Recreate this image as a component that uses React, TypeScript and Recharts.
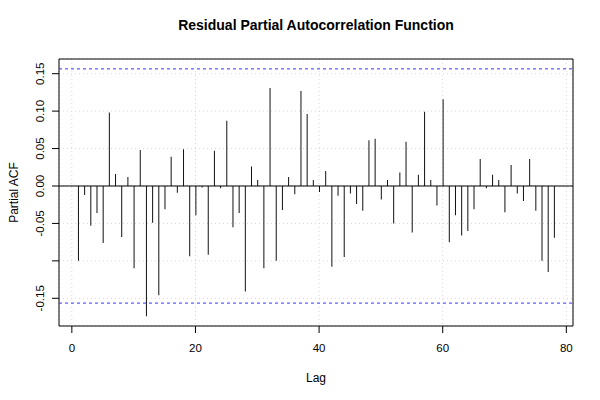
import React from 'react';
import {
  ComposedChart,
  Bar,
  XAxis,
  YAxis,
  CartesianGrid,
  ReferenceLine,
  ReferenceArea,
} from 'recharts';

// lag numbers and the residual partial autocorrelations
const lags = [
  1, 2, 3, 4, 5, 6, 7, 8, 9, 10, 11, 12, 13, 14, 15, 16, 17, 18, 19, 20,
  21, 22, 23, 24, 25, 26, 27, 28, 29, 30, 31, 32, 33, 34, 35, 36, 37, 38, 39, 40,
  41, 42, 43, 44, 45, 46, 47, 48, 49, 50, 51, 52, 53, 54, 55, 56, 57, 58, 59, 60,
  61, 62, 63, 64, 65, 66, 67, 68, 69, 70, 71, 72, 73, 74, 75, 76, 77, 78,
];

const pacf = [
  -0.100, -0.012, -0.053, -0.036, -0.076, 0.098, 0.016, -0.068, 0.012, -0.110,
  0.048, -0.174, -0.049, -0.146, -0.031, 0.039, -0.009, 0.049, -0.094, -0.039,
  -0.002, -0.092, 0.047, -0.003, 0.087, -0.055, -0.036, -0.141, 0.026, 0.008,
  -0.110, 0.131, -0.100, -0.032, 0.012, -0.011, 0.127, 0.096, 0.008, -0.008,
  0.020, -0.108, -0.013, -0.095, -0.010, -0.024, -0.033, 0.061, 0.063, -0.018,
  0.008, -0.050, 0.018, 0.059, -0.062, 0.015, 0.099, 0.008, -0.026, 0.116,
  -0.075, -0.039, -0.066, -0.060, -0.031, 0.036, -0.003, 0.015, 0.008, -0.035,
  0.028, -0.010, -0.020, 0.036, -0.033, -0.100, -0.115, -0.069,
];

const xTicks = [0, 20, 40, 60, 80];
const yTicks = [-0.15, -0.1, -0.05, 0, 0.05, 0.1, 0.15];
const hiddenYLabels = [-0.1]; // R drops this one (overlap)
const ci = 0.1564;

const xDomain: [number, number] = [-2.08, 81.08];
const yDomain: [number, number] = [-0.187, 0.1696];

const data = lags.map((lag, i) => ({ lag, value: pacf[i] }));

const FONT = '"Liberation Sans", Arial, Helvetica, sans-serif';

const YTick = (props: any) => {
  const { x, y, payload } = props;
  if (hiddenYLabels.includes(payload.value)) return <g />;
  return (
    <text
      x={x}
      y={y}
      transform={`rotate(-90, ${x}, ${y})`}
      textAnchor="middle"
      dominantBaseline="central"
      fontSize={11.5}
      fontFamily={FONT}
      fill="#000"
    >
      {payload.value.toFixed(2)}
    </text>
  );
};

const XTick = (props: any) => {
  const { x, y, payload } = props;
  return (
    <text x={x} y={y} textAnchor="middle" dy="0.71em" fontSize={11.5} fontFamily={FONT} fill="#000">
      {payload.value}
    </text>
  );
};

const App: React.FC = () => {
  return (
    <div style={{ position: 'absolute', left: 0, top: 0, width: 600, height: 400, background: '#fff' }}>
      <div
        style={{
          position: 'absolute',
          left: 59,
          width: 514,
          top: 17,
          textAlign: 'center',
          fontFamily: FONT,
          fontWeight: 'bold',
          fontSize: 14,
          color: '#000',
        }}
      >
        Residual Partial Autocorrelation Function
      </div>
      <ComposedChart
        width={600}
        height={400}
        data={data}
        margin={{ top: 59, right: 27, bottom: 34, left: 14 }}
      >
        <CartesianGrid stroke="#d8d8d8" strokeDasharray="1 3" />
        <XAxis
          dataKey="lag"
          type="number"
          domain={xDomain}
          ticks={xTicks}
          allowDataOverflow
          height={40}
          axisLine={false}
          tickLine={{ stroke: '#000' }}
          tickSize={7}
          tickMargin={11}
          tick={<XTick />}
          label={{
            content: (p: any) => (
              <text
                x={p.viewBox.x + p.viewBox.width / 2}
                y={p.viewBox.y + 52}
                textAnchor="middle"
                dominantBaseline="central"
                fontSize={12}
                fontFamily={FONT}
                fill="#000"
              >
                Lag
              </text>
            ),
          }}
        />
        <YAxis
          type="number"
          domain={yDomain}
          ticks={yTicks}
          allowDataOverflow
          width={45}
          axisLine={false}
          tickLine={{ stroke: '#000' }}
          tickSize={7}
          tickMargin={12}
          tick={<YTick />}
          label={{
            content: (p: any) => {
              const cx = p.viewBox.x + p.viewBox.width - 45;
              const cy = p.viewBox.y + p.viewBox.height / 2;
              return (
                <text
                  x={cx}
                  y={cy}
                  transform={`rotate(-90, ${cx}, ${cy})`}
                  textAnchor="middle"
                  dominantBaseline="central"
                  fontSize={12}
                  fontFamily={FONT}
                  fill="#000"
                >
                  Partial ACF
                </text>
              );
            },
          }}
        />
        <ReferenceLine y={ci} stroke="#3333ff" strokeDasharray="3 3" />
        <ReferenceLine y={-ci} stroke="#3333ff" strokeDasharray="3 3" />
        <ReferenceLine y={0} stroke="#000" />
        <Bar dataKey="value" barSize={1} fill="#111" isAnimationActive={false} />
        <ReferenceArea
          x1={xDomain[0]}
          x2={xDomain[1]}
          y1={yDomain[0]}
          y2={yDomain[1]}
          fill="none"
          stroke="#000"
          ifOverflow="visible"
        />
      </ComposedChart>
    </div>
  );
};

export default App;
